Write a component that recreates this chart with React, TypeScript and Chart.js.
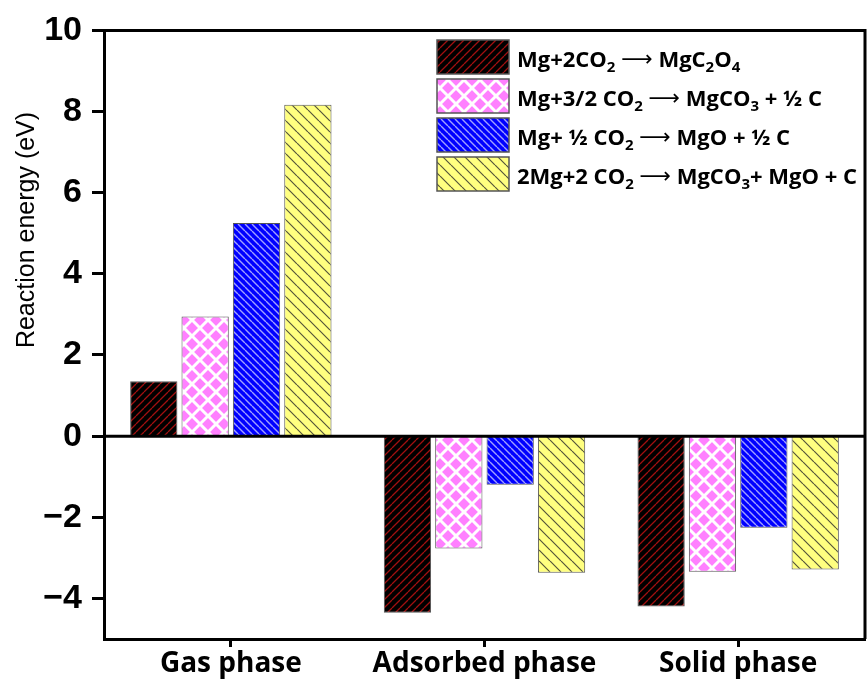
import React, { useEffect, useRef } from "react";
import { Chart, registerables } from "chart.js";

Chart.register(...registerables);

const categories = ["Gas phase", "Adsorbed phase", "Solid phase"];
const mgC2O4Values = [1.35, -4.35, -4.2];
const mgCO3Values = [2.95, -2.77, -3.34];
const mgOValues = [5.25, -1.2, -2.26];
const mixValues = [8.17, -3.37, -3.29];
const yTickValues = [-4, -2, 0, 2, 4, 6, 8, 10];
const yTitle = "Reaction energy (eV)";

// legend segments: [text, kind] kind 0 normal, 1 subscript, 2 arrow
type Seg = [string, number];
const legend1: Seg[] = [["Mg+2CO", 0], ["2", 1], [" ", 0], ["⟶", 2], [" MgC", 0], ["2", 1], ["O", 0], ["4", 1]];
const legend2: Seg[] = [["Mg+3/2 CO", 0], ["2", 1], [" ", 0], ["⟶", 2], [" MgCO", 0], ["3", 1], [" + ½ C", 0]];
const legend3: Seg[] = [["Mg+ ½ CO", 0], ["2", 1], [" ", 0], ["⟶", 2], [" MgO + ½ C", 0]];
const legend4: Seg[] = [["2Mg+2 CO", 0], ["2", 1], [" ", 0], ["⟶", 2], [" MgCO", 0], ["3", 1], ["+ MgO + C", 0]];

function makePattern(bg: string, line: string, s: number, w: number, dir: string) {
  const c = document.createElement("canvas");
  c.width = s;
  c.height = s;
  const ctx = c.getContext("2d")!;
  ctx.fillStyle = bg;
  ctx.fillRect(0, 0, s, s);
  ctx.strokeStyle = line;
  ctx.lineWidth = w;
  ctx.beginPath();
  for (const k of [-1, 0, 1]) {
    if (dir === "back" || dir === "cross") {
      ctx.moveTo(k * s, 0);
      ctx.lineTo(k * s + s, s);
    }
    if (dir === "fwd" || dir === "cross") {
      ctx.moveTo(k * s, s);
      ctx.lineTo(k * s + s, 0);
    }
  }
  ctx.stroke();
  return ctx.createPattern(c, "repeat")!;
}

export default function App() {
  const ref = useRef<HTMLCanvasElement>(null);
  useEffect(() => {
    document.body.style.margin = "0";
    const patBlack = makePattern("#000000", "#A01010", 8, 1.3, "fwd");
    const patPink = makePattern("#FF80FF", "#FFFFFF", 16, 3, "cross");
    const patBlue = makePattern("#0000FF", "#A0A0FF", 7, 1.4, "back");
    const patYellow = makePattern("#FFFF80", "#55553A", 11, 1.2, "back");
    const pats = [patBlack, patPink, patBlue, patYellow];
    const legends = [legend1, legend2, legend3, legend4];

    const framePlugin = {
      id: "frame",
      afterDatasetsDraw(chart: any) {
        const { ctx, chartArea } = chart;
        const y0 = chart.scales.y.getPixelForValue(0);
        ctx.save();
        ctx.strokeStyle = "#000";
        ctx.lineWidth = 3;
        ctx.beginPath();
        ctx.moveTo(chartArea.left - 1.5, chartArea.top);
        ctx.lineTo(chartArea.right, chartArea.top);
        ctx.lineTo(chartArea.right, chartArea.bottom);
        ctx.moveTo(chartArea.left, y0);
        ctx.lineTo(chartArea.right, y0);
        ctx.stroke();
        ctx.restore();
      },
      afterDraw(chart: any) {
        const { ctx } = chart;
        ctx.save();
        // y title
        ctx.translate(27, 230);
        ctx.rotate(-Math.PI / 2);
        ctx.fillStyle = "#000";
        ctx.font = "25px 'Liberation Sans'";
        ctx.textAlign = "center";
        ctx.textBaseline = "middle";
        ctx.fillText(yTitle, 0, 0);
        ctx.restore();

        // legend
        ctx.save();
        for (let i = 0; i < 4; i++) {
          const top = 40 + 39 * i;
          ctx.fillStyle = pats[i];
          ctx.fillRect(437, top, 72, 34);
          ctx.strokeStyle = "#555";
          ctx.lineWidth = 1.5;
          ctx.strokeRect(437, top, 72, 34);
          let x = 517;
          const base = top + 27;
          ctx.fillStyle = "#000";
          ctx.textBaseline = "alphabetic";
          ctx.textAlign = "left";
          for (const [t, k] of legends[i]) {
            let yy = base;
            if (k === 1) {
              ctx.font = "bold 15px 'Open Sans'";
              yy = base + 5;
            } else if (k === 2) {
              ctx.font = "22px 'DejaVu Sans'";
              yy = base - 1;
            } else {
              ctx.font = "bold 22px 'Open Sans'";
            }
            ctx.fillText(t, x, yy);
            x += ctx.measureText(t).width;
          }
        }
        ctx.restore();
      },
    };

    const mk = (label: string, data: number[], i: number) => ({
      label,
      data,
      backgroundColor: pats[i],
      borderColor: "#555",
      borderWidth: 1,
      categoryPercentage: 0.81,
      barPercentage: 0.92,
    });

    const chart = new Chart(ref.current!, {
      type: "bar",
      data: {
        labels: categories,
        datasets: [
          mk("Mg+2CO2 → MgC2O4", mgC2O4Values, 0),
          mk("Mg+3/2 CO2 → MgCO3 + ½ C", mgCO3Values, 1),
          mk("Mg+ ½ CO2 → MgO + ½ C", mgOValues, 2),
          mk("2Mg+2 CO2 → MgCO3+ MgO + C", mixValues, 3),
        ],
      },
      options: {
        animation: false,
        responsive: false,
        layout: { padding: { top: 30, right: 3, left: 0, bottom: 0 } },
        plugins: { legend: { display: false }, tooltip: { enabled: false } },
        scales: {
          x: {
            grid: {
              display: true,
              drawOnChartArea: false,
              drawTicks: true,
              tickLength: 8,
              tickWidth: 3,
              color: "#000",
              offset: false,
            },
            border: { display: true, width: 3, color: "#000" },
            ticks: {
              font: { family: "'Open Sans'", weight: "bold", size: 28 },
              color: "#000",
              padding: 0,
              maxRotation: 0,
            },
            afterFit: (s: any) => {
              s.height = 43;
            },
          },
          y: {
            min: -5,
            max: 10,
            afterBuildTicks: (s: any) => {
              s.ticks = yTickValues.map((v) => ({ value: v }));
            },
            grid: {
              drawOnChartArea: false,
              drawTicks: true,
              tickLength: 12,
              tickWidth: 3,
              color: "#000",
            },
            border: { display: true, width: 3, color: "#000" },
            ticks: {
              font: { family: "'Liberation Sans'", weight: "bold", size: 34 },
              color: "#000",
              padding: 10,
              callback: (v: any) => (v < 0 ? "−" + -v : String(v)),
            },
            afterFit: (s: any) => {
              s.width = 104;
            },
          },
        },
      },
      plugins: [framePlugin],
    });
    return () => chart.destroy();
  }, []);
  return <canvas ref={ref} width={868} height={682} />;
}
